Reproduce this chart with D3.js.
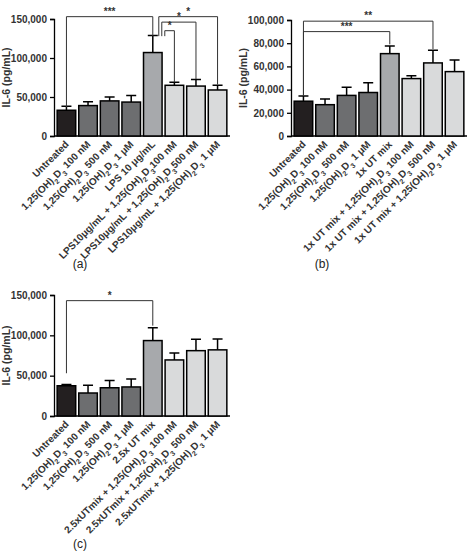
<!DOCTYPE html>
<html><head><meta charset="utf-8">
<script src="https://cdn.jsdelivr.net/npm/d3@7"></script>
<style>body{margin:0;background:#fff}text{font-family:"Liberation Sans",Arial,sans-serif}</style>
</head><body>
<script>
// label parts: [text, isSubscript]
const D = [['1,25(OH)',0],['2',1],['D',0],['3',1]];
const labelsA = [
  [['Untreated',0]],
  [...D,[' 100 nM',0]], [...D,[' 500 nM',0]], [...D,[' 1 \u03bcM',0]],
  [['LPS 10 \u03bcg/mL',0]],
  [['LPS10\u03bcg/mL + ',0],...D,['100 nM',0]],
  [['LPS10\u03bcg/mL + ',0],...D,['500 nM',0]],
  [['LPS10\u03bcg/mL + ',0],...D,[' 1 \u03bcM',0]]
];
const labelsB = [
  [['Untreated',0]],
  [...D,[' 100 nM',0]], [...D,[' 500 nM',0]], [...D,[' 1 \u03bcM',0]],
  [['1x UT mix',0]],
  [['1x UT mix + ',0],...D,[' 100 nM',0]],
  [['1x UT mix + ',0],...D,[' 500 nM',0]],
  [['1x UT mix + ',0],...D,[' 1 \u03bcM',0]]
];
const labelsC = [
  [['Untreated',0]],
  [...D,[' 100 nM',0]], [...D,[' 500 nM',0]], [...D,[' 1 \u03bcM',0]],
  [['2.5x UT mix',0]],
  [['2.5xUTmix + ',0],...D,[' 100 nM',0]],
  [['2.5xUTmix + ',0],...D,[' 500 nM',0]],
  [['2.5xUTmix + ',0],...D,[' 1 \u03bcM',0]]
];
const meanA = [33000, 39000, 45000, 43500, 107000, 65000, 64000, 59000];
const errA  = [5000, 5000, 5000, 8500, 22000, 4000, 8500, 6000];
const meanB = [30000, 27000, 35000, 37500, 71000, 49500, 63000, 55500];
const errB  = [4500, 5000, 7000, 8500, 6500, 2500, 11000, 10000];
const meanC = [37500, 28500, 35000, 36000, 93500, 69500, 81000, 82000];
const errC  = [1500, 9500, 9000, 10000, 16000, 8500, 14000, 13500];
const ticksA = [0, 50000, 100000, 150000];
const ticksB = [0, 20000, 40000, 60000, 80000, 100000];
const ticksC = [0, 50000, 100000, 150000];
// brackets: [fromIndex, toIndex, level (value), fromLegValue, toLegValue, label]
const brA = [[0,4,153000,37000,128000,'***'],[4,7,153000,128000,66000,'*'],[4,6,146000,128000,73000,'*'],[4,5,135000,128000,69000,'*']];
const brB = [[0,6,99000,35000,75000,'**'],[0,4,90000,35000,79000,'***']];
const brC = [[0,4,143000,53000,112000,'*']];
const colors = ['#231f20','#6d6e70','#6d6e70','#6d6e70','#a7a9ac','#d9dadb','#d9dadb','#d9dadb'];

const svg = d3.select('body').append('svg').attr('width',474).attr('height',559);

function panel(o){
  const g = svg.append('g');
  const x = d3.scaleBand().domain(d3.range(8)).range([o.x0+1, o.x1]).paddingInner(0.14).paddingOuter(0.1);
  const y = d3.scaleLinear().domain([0, o.max]).range([o.yb, o.yt]);
  const ax = g.append('g').attr('transform',`translate(${o.x0},0)`)
    .call(d3.axisLeft(y).tickValues(o.ticks).tickSize(4).tickFormat(d3.format(',')));
  ax.select('.domain').attr('stroke','#000').attr('stroke-width',1.3);
  ax.selectAll('.tick line').attr('stroke-width',1.3);
  ax.selectAll('text').attr('font-size',10).attr('font-weight','bold').attr('fill','#333');
  g.append('line').attr('x1',o.x0).attr('x2',o.x1+1).attr('y1',o.yb).attr('y2',o.yb).attr('stroke','#000').attr('stroke-width',1.3);
  g.append('text').attr('transform',`translate(${o.x0-44},${(o.yt+o.yb)/2}) rotate(-90)`)
    .attr('text-anchor','middle').attr('font-size',10.5).attr('font-weight','bold').attr('fill','#333').text('IL-6 (pg/mL)');
  const cx = i => x(i)+x.bandwidth()/2;
  // error bars (up only)
  g.selectAll('.eb').data(o.mean).join('path')
    .attr('d',(d,i)=>`M${cx(i)},${y(d)}V${y(d+o.err[i])}M${cx(i)-5},${y(d+o.err[i])}H${cx(i)+5}`)
    .attr('stroke','#000').attr('stroke-width',1.5).attr('fill','none');
  g.selectAll('.bar').data(o.mean).join('rect')
    .attr('x',(d,i)=>x(i)).attr('width',x.bandwidth())
    .attr('y',d=>y(d)).attr('height',d=>o.yb-y(d))
    .attr('fill',(d,i)=>colors[i]).attr('stroke','#000').attr('stroke-width',1.5);
  // category labels
  o.labels.forEach((parts,i)=>{
    const t = g.append('text').attr('transform',`translate(${cx(i)+3},${o.yb+9}) rotate(-45)`)
      .attr('text-anchor','end').attr('font-size',10).attr('font-weight','bold').attr('fill','#333');
    parts.forEach(([s,sub])=>{
      const ts = t.append('tspan').text(s);
      if(sub) ts.attr('font-size',7).attr('baseline-shift','sub');
    });
  });
  // significance brackets
  o.br.forEach(([a,b,lev,la,lb,lab],k)=>{
    const xa = cx(a)+ (a===4 ? 3+k*3 : 0), xb = cx(b);
    g.append('path').attr('d',`M${xa},${y(la)}V${y(lev)}H${xb}V${y(lb)}`)
      .attr('fill','none').attr('stroke','#333').attr('stroke-width',1);
    g.append('text').attr('x',(xa+xb)/2).attr('y',y(lev)-2).attr('text-anchor','middle')
      .attr('font-size',10).attr('font-weight','bold').attr('fill','#333').text(lab);
  });
  g.append('text').attr('x',o.lx).attr('y',o.ly).attr('text-anchor','middle').attr('font-size',12).attr('fill','#222').text(o.tag);
}

panel({x0:54,x1:229,yt:19,yb:136,max:150000,ticks:ticksA,mean:meanA,err:errA,labels:labelsA,br:brA,tag:'(a)',lx:80,ly:268});
panel({x0:291,x1:466,yt:20,yb:136,max:100000,ticks:ticksB,mean:meanB,err:errB,labels:labelsB,br:brB,tag:'(b)',lx:322,ly:268});
panel({x0:54,x1:229,yt:295,yb:416,max:150000,ticks:ticksC,mean:meanC,err:errC,labels:labelsC,br:brC,tag:'(c)',lx:80,ly:548});
</script>
</body></html>
